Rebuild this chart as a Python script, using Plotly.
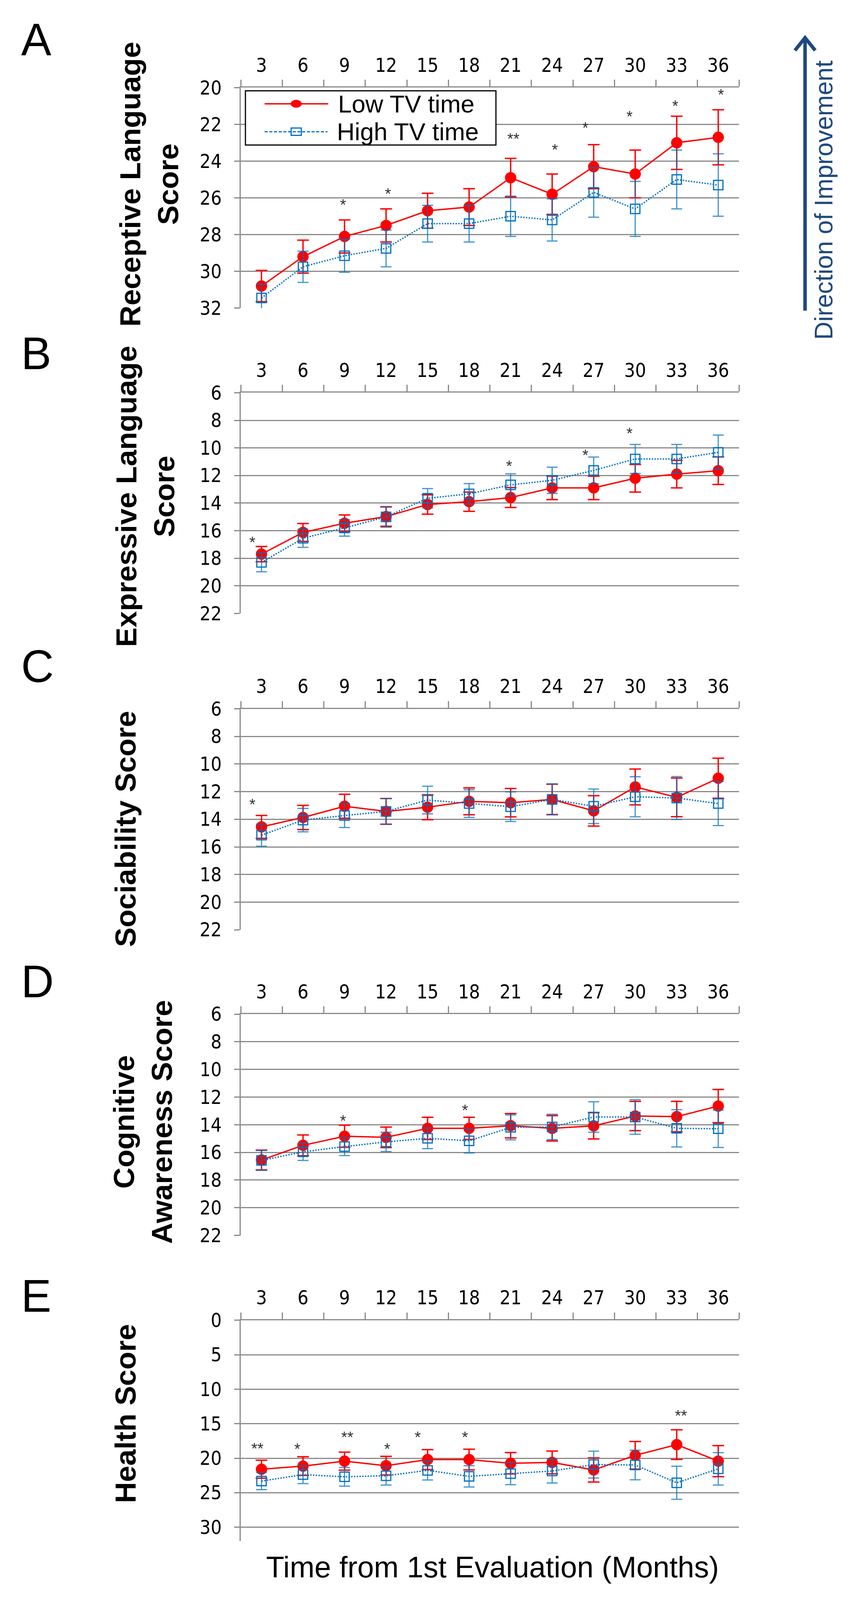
import plotly.graph_objects as go

# ---------------- data ----------------
months = [3, 6, 9, 12, 15, 18, 21, 24, 27, 30, 33, 36]
month_labels = ["3", "6", "9", "12", "15", "18", "21", "24", "27", "30", "33", "36"]
series_names = ["Low TV time", "High TV time"]

# A  Receptive language
recv_low = [30.8, 29.2, 28.1, 27.5, 26.7, 26.5, 24.9, 25.8, 24.3, 24.7, 23.0, 22.7]
recv_low_err = [0.85, 0.9, 0.9, 0.9, 0.95, 1.0, 1.05, 1.1, 1.2, 1.3, 1.45, 1.5]
recv_high = [31.45, 29.75, 29.15, 28.75, 27.4, 27.4, 27.0, 27.2, 25.7, 26.6, 25.0, 25.3]
recv_high_err = [0.75, 0.85, 0.9, 1.0, 1.0, 1.0, 1.1, 1.15, 1.35, 1.5, 1.6, 1.7]
recv_star_x = [8.9, 12.15, 21.2, 24.2, 26.4, 29.6, 32.9, 36.2]
recv_star_y = [26.2, 25.6, 22.6, 23.2, 22.0, 21.4, 20.82, 20.2]
recv_star_t = ["*", "*", "**", "*", "*", "*", "*", "*"]

# B  Expressive language
expr_low = [17.7, 16.13, 15.46, 14.98, 14.1, 13.9, 13.6, 12.9, 12.9, 12.2, 11.9, 11.65]
expr_low_err = [0.55, 0.65, 0.6, 0.7, 0.7, 0.7, 0.72, 0.85, 0.85, 1.0, 1.0, 1.0]
expr_high = [18.3, 16.55, 15.8, 15.0, 13.65, 13.33, 12.68, 12.35, 11.63, 10.8, 10.8, 10.32]
expr_high_err = [0.68, 0.66, 0.6, 0.75, 0.7, 0.74, 0.8, 0.95, 0.97, 1.05, 1.05, 1.25]
expr_star_x = [2.35, 20.9, 26.4, 29.6]
expr_star_y = [16.6, 11.1, 10.28, 8.7]
expr_star_t = ["*", "*", "*", "*"]

# C  Sociability
soc_low = [14.55, 13.87, 13.06, 13.43, 13.13, 12.7, 12.8, 12.56, 13.39, 11.66, 12.41, 11.03]
soc_low_err = [0.83, 0.88, 0.87, 0.93, 0.9, 0.97, 1.03, 1.1, 1.1, 1.3, 1.4, 1.45]
soc_high = [15.15, 14.06, 13.73, 13.43, 12.61, 12.86, 13.09, 12.56, 13.06, 12.37, 12.46, 12.86]
soc_high_err = [0.8, 0.85, 0.87, 0.93, 1.0, 1.0, 1.07, 1.12, 1.25, 1.45, 1.55, 1.6]
soc_star_x = [2.35]
soc_star_y = [12.68]
soc_star_t = ["*"]

# D  Cognitive awareness
cog_low = [16.55, 15.49, 14.83, 14.91, 14.26, 14.26, 14.07, 14.26, 14.08, 13.37, 13.41, 12.65]
cog_low_err = [0.72, 0.75, 0.8, 0.74, 0.8, 0.8, 0.88, 0.92, 0.95, 1.06, 1.1, 1.2]
cog_high = [16.58, 15.96, 15.58, 15.24, 14.98, 15.16, 14.19, 14.16, 13.44, 13.44, 14.26, 14.29]
cog_high_err = [0.72, 0.62, 0.65, 0.7, 0.75, 0.88, 0.9, 0.92, 1.1, 1.25, 1.35, 1.35]
cog_star_x = [8.9, 17.7]
cog_star_y = [13.49, 12.72]
cog_star_t = ["*", "*"]

# E  Health
health_low = [21.6, 21.14, 20.42, 21.08, 20.2, 20.2, 20.73, 20.61, 21.7, 19.58, 18.03, 20.42]
health_low_err = [1.3, 1.35, 1.3, 1.35, 1.45, 1.5, 1.55, 1.65, 1.75, 2.0, 2.15, 2.25]
health_high = [23.31, 22.38, 22.69, 22.54, 21.76, 22.63, 22.23, 21.85, 20.92, 20.98, 23.56, 21.54]
health_high_err = [1.25, 1.3, 1.35, 1.35, 1.4, 1.55, 1.6, 1.75, 1.95, 2.15, 2.4, 2.35]
health_star_x = [2.7, 5.6, 9.2, 12.1, 14.3, 17.7, 33.3]
health_star_y = [18.1, 18.2, 16.5, 18.2, 16.5, 16.5, 13.36]
health_star_t = ["**", "*", "**", "*", "*", "*", "**"]

panel_letters = ["A", "B", "C", "D", "E"]
panel_titles = ["Receptive Language<br>Score", "Expressive Language<br>Score",
                "Sociability Score", "Cognitive<br>Awareness Score", "Health Score"]
x_title = "Time from 1st Evaluation (Months)"
arrow_text = "Direction of Improvement"

# ---------------- styling / layout ----------------
W, H = 2175, 5591
GRAY = "#8a8a8a"
RED = "#FF0000"
BLUE = "#0070C0"
NAVY = "#1F497D"
SANS = "Liberation Sans, Arial, sans-serif"
NARROW = "Liberation Sans Narrow, Arial Narrow, DejaVu Sans Condensed, sans-serif"


def px(x):
    return x / W


def py(y):
    return 1 - y / H


panel_data = [
    (recv_low, recv_low_err, recv_high, recv_high_err, recv_star_x, recv_star_y, recv_star_t),
    (expr_low, expr_low_err, expr_high, expr_high_err, expr_star_x, expr_star_y, expr_star_t),
    (soc_low, soc_low_err, soc_high, soc_high_err, soc_star_x, soc_star_y, soc_star_t),
    (cog_low, cog_low_err, cog_high, cog_high_err, cog_star_x, cog_star_y, cog_star_t),
    (health_low, health_low_err, health_high, health_high_err, health_star_x, health_star_y, health_star_t),
]

# per-panel geometry (pixels) and axis settings
panel_style = [
    dict(top=272, bottom=1053, yrange=[32, 20], tick0=20, dtick=2, title_x=382, title_y=615, letter_base=142),
    dict(top=1353, bottom=2135, yrange=[22, 6], tick0=6, dtick=2, title_x=372, title_y=1721, letter_base=1254),
    dict(top=2473, bottom=3256, yrange=[22, 6], tick0=6, dtick=2, title_x=321, title_y=2899, letter_base=2363),
    dict(top=3555, bottom=4339, yrange=[22, 6], tick0=6, dtick=2, title_x=366, title_y=3937, letter_base=3480),
    dict(top=4640, bottom=5422, yrange=[32, 0], tick0=0, dtick=5, title_x=321, title_y=4971, letter_base=4594),
]

X_LEFT, X_RIGHT = 616, 1891

fig = go.Figure()
annotations = []
layout_axes = {}

for i, (data, st) in enumerate(zip(panel_data, panel_style)):
    low, low_err, high, high_err, sx, sy, stxt = data
    sfx = "" if i == 0 else str(i + 1)
    xa, ya = "x" + sfx, "y" + sfx

    fig.add_trace(go.Scatter(
        x=months, y=low, name=series_names[0], mode="lines+markers",
        line=dict(color=RED, width=3.5),
        marker=dict(symbol="circle", size=29, color=RED),
        error_y=dict(type="data", array=low_err, visible=True, color=RED, thickness=3.5, width=15),
        xaxis=xa, yaxis=ya, showlegend=False))
    fig.add_trace(go.Scatter(
        x=months, y=high, name=series_names[1], mode="lines+markers",
        line=dict(color=BLUE, width=3.5, dash="dot"),
        marker=dict(symbol="square-open", size=24, color=BLUE, line=dict(color=BLUE, width=3)),
        error_y=dict(type="data", array=high_err, visible=True, color="rgba(0,112,192,0.75)", thickness=3, width=14),
        xaxis=xa, yaxis=ya, showlegend=False))

    layout_axes["xaxis" + sfx] = dict(
        domain=[px(X_LEFT), px(X_RIGHT)], range=[1.5, 37.5], anchor=ya, side="top",
        tickmode="array", tickvals=months, ticktext=month_labels,
        ticks="outside", ticklen=18, tickcolor="rgba(0,0,0,0)",
        tickfont=dict(family=NARROW, size=49, color="black"),
        showline=True, linecolor=GRAY, linewidth=3, showgrid=False, zeroline=False,
        minor=dict(tickmode="linear", tick0=1.5, dtick=3, ticks="outside", ticklen=17,
                   tickwidth=3, tickcolor=GRAY, showgrid=False),
        fixedrange=True)
    layout_axes["yaxis" + sfx] = dict(
        domain=[py(st["bottom"]), py(st["top"])], range=st["yrange"], anchor=xa,
        tickmode="linear", tick0=st["tick0"], dtick=st["dtick"],
        ticks="outside", ticklen=14, tickwidth=3, tickcolor=GRAY,
        tickfont=dict(family=NARROW, size=49, color="black"), ticklabelstandoff=22,
        showline=True, linecolor=GRAY, linewidth=3,
        showgrid=True, gridcolor=GRAY, gridwidth=3, zeroline=False, fixedrange=True)

    for x_, y_, t_ in zip(sx, sy, stxt):
        annotations.append(dict(x=x_, y=y_, xref=xa, yref=ya, text=t_, showarrow=False,
                                font=dict(family=SANS, size=40, color="#333333"), yshift=-8))

    annotations.append(dict(x=px(st["title_x"]), y=py(st["title_y"]), xref="paper", yref="paper",
                            text="<b>" + panel_titles[i] + "</b>", textangle=-90, showarrow=False,
                            xanchor="center", yanchor="middle",
                            font=dict(family=SANS, size=75, color="black")))
    annotations.append(dict(x=px(52), y=py(st["letter_base"] - 40), xref="paper", yref="paper",
                            text=panel_letters[i], showarrow=False, xanchor="left", yanchor="middle",
                            font=dict(family=SANS, size=116, color="black")))

annotations.append(dict(x=px(1260), y=py(5514), xref="paper", yref="paper", text=x_title,
                        showarrow=False, xanchor="center", yanchor="middle",
                        font=dict(family=SANS, size=76, color="black")))
annotations.append(dict(x=px(2108), y=py(671), xref="paper", yref="paper", text=arrow_text,
                        textangle=-90, showarrow=False, xanchor="center", yanchor="middle",
                        font=dict(family=SANS, size=64, color=NAVY)))

# legend (drawn), in panel A
annotations.append(dict(x=px(863), y=py(329), xref="paper", yref="paper", text=series_names[0],
                        showarrow=False, xanchor="left", yanchor="middle",
                        font=dict(family=SANS, size=63, color="black")))
annotations.append(dict(x=px(860), y=py(428), xref="paper", yref="paper", text=series_names[1],
                        showarrow=False, xanchor="left", yanchor="middle",
                        font=dict(family=SANS, size=63, color="black")))

shapes = [
    # legend box
    dict(type="rect", xref="paper", yref="paper", x0=px(628), x1=px(1269), y0=py(475), y1=py(283),
         line=dict(color="black", width=3), fillcolor="white", layer="above"),
    dict(type="line", xref="paper", yref="paper", x0=px(677), x1=px(840), y0=py(329), y1=py(329),
         line=dict(color=RED, width=3.5), layer="above"),
    dict(type="circle", xref="paper", yref="paper", x0=px(744), x1=px(772), y0=py(343), y1=py(315),
         line=dict(color=RED, width=0), fillcolor=RED, layer="above"),
    dict(type="line", xref="paper", yref="paper", x0=px(677), x1=px(838), y0=py(428), y1=py(428),
         line=dict(color=BLUE, width=3, dash="8px,4px"), layer="above"),
    dict(type="rect", xref="paper", yref="paper", x0=px(745), x1=px(771), y0=py(441), y1=py(415),
         line=dict(color=BLUE, width=3), fillcolor="rgba(0,0,0,0)", layer="above"),
    # direction arrow
    dict(type="line", xref="paper", yref="paper", x0=px(2060), x1=px(2060), y0=py(1062), y1=py(97),
         line=dict(color=NAVY, width=9), layer="above"),
    dict(type="path", xref="paper", yref="paper",
         path="M %f,%f L %f,%f L %f,%f" % (px(2034), py(140), px(2060), py(95), px(2086), py(140)),
         line=dict(color=NAVY, width=9), layer="above"),
]

fig.update_layout(
    width=W, height=H, autosize=False,
    margin=dict(l=0, r=0, t=0, b=0, pad=0),
    paper_bgcolor="white", plot_bgcolor="white",
    showlegend=False, annotations=annotations, shapes=shapes,
    **layout_axes)

# If the browser viewport is shorter than the figure, fit the figure's height to it
# (all positions are in paper fractions, so the layout keeps its proportions).
fit_script = """
document.documentElement.style.margin='0';
document.body.style.margin='0';
document.documentElement.style.overflow='hidden';
document.body.style.overflow='hidden';
(function(){
  var gd = document.getElementById('{plot_id}');
  var vh = window.innerHeight;
  if (vh > 200 && vh < %d) {
    gd.style.height = vh + 'px';
    Plotly.relayout(gd, {height: vh});
  }
})();
""" % H

fig.write_html("out.html", include_plotlyjs=True, full_html=True,
               config={"displayModeBar": False},
               post_script=fit_script)
